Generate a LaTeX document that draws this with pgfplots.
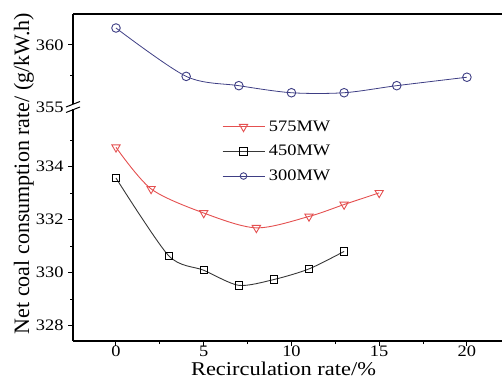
\documentclass[border=0pt]{standalone}
\usepackage{fontspec}
\setmainfont{Liberation Serif}[FakeStretch=1.15]
\newfontfamily\plainfont{Liberation Serif}
\usepackage{pgfplots}
\pgfplotsset{compat=1.18}
\definecolor{cred}{RGB}{228,80,80}
\definecolor{cblue}{RGB}{62,62,132}
\definecolor{cline}{RGB}{55,55,55}
\begin{document}
\begin{tikzpicture}
\path[use as bounding box] (0,0) rectangle (502pt,380pt);
\pgfplotsset{
  common/.style={
    scale only axis, width=429pt,
    xmin=-2.45, xmax=22.0,
    axis y line*=left,
    axis line style={line width=1.2pt, black},
    tick align=outside,
    major tick length=5pt, minor tick length=3pt,
    every tick/.style={line width=1pt, black},
    /pgf/number format/assume math mode=true,
    ticklabel style={font=\fontsize{16}{18}\selectfont},
    yticklabel style={xshift=-1pt},
    xticklabel style={yshift=3.5pt},
    clip=false,
  },
}
% upper axis
\begin{axis}[common,
  at={(73pt,273pt)}, anchor=south west, height=93pt,
  ymin=355, ymax=362.5,
  axis x line*=top, xtick=\empty,
  ytick={355,360}, minor ytick={357.5},
]
\addplot[cblue, line width=0.8pt, smooth, tension=0.5, mark=o, mark size=4.3pt,
  mark options={solid, fill=white, line width=0.9pt}]
  coordinates {(0,361.37) (4,357.47) (7,356.72) (10,356.15) (13,356.15) (16,356.72) (20,357.4)};
\end{axis}
% lower axis
\begin{axis}[common,
  at={(73pt,39pt)}, anchor=south west, height=234pt,
  ymin=327.42, ymax=336.25,
  axis x line*=bottom,
  xtick={0,5,10,15,20}, minor xtick={2.5,7.5,12.5,17.5},
  ytick={328,330,332,334}, minor ytick={329,331,333,335},
  legend cell align=left,
  legend style={at={(0.347,0.946)}, anchor=north west, draw=none, fill=none,
    inner sep=0pt, row sep=10.5pt,
    nodes={inner sep=1pt, font=\fontsize{16}{18}\selectfont},
    /tikz/every odd column/.style={column sep=3pt}},
  legend image code/.code={\draw[mark repeat=2, mark phase=2, #1]
    plot coordinates {(0pt,0pt) (21pt,0pt) (42pt,0pt)};},
]
\addplot[cred, line width=0.9pt, smooth, tension=0.5, mark=triangle, mark size=4.8pt,
  mark options={solid, rotate=180, fill=white, line width=0.9pt}]
  coordinates {(0,334.73) (2,333.16) (5,332.25) (8,331.69) (11,332.12) (13,332.57) (15,333.01)};
\addlegendentry{575MW}
\addplot[cline, line width=0.9pt, smooth, tension=0.45, mark=square, mark size=3.6pt,
  mark options={solid, draw=black, fill=white, line width=0.9pt}]
  coordinates {(0,333.57) (3,330.64) (5,330.09) (7,329.52) (9,329.74) (11,330.14) (13,330.80)};
\addlegendentry{450MW}
\addlegendimage{cblue, line width=0.9pt, mark=o, mark size=3.3pt,
  mark options={solid, fill=white, line width=0.9pt}}
\addlegendentry{300MW}
\end{axis}
% axis break marks
\fill[white] (64pt,270.5pt) rectangle (82pt,275.5pt);
\draw[line width=1pt] (66pt,267.5pt) -- (80pt,273pt);
\draw[line width=1pt] (66pt,273pt) -- (80pt,278.5pt);
% axis labels
\node[rotate=90, anchor=base, font=\plainfont\fontsize{22}{24}\selectfont] at (29pt,206.5pt) {Net coal consumption rate/ (g/kW.h)};
\node[anchor=base, font=\fontsize{19.5}{22}\selectfont] at (283.5pt,5pt) {Recirculation rate/\%};
\end{tikzpicture}
\end{document}
